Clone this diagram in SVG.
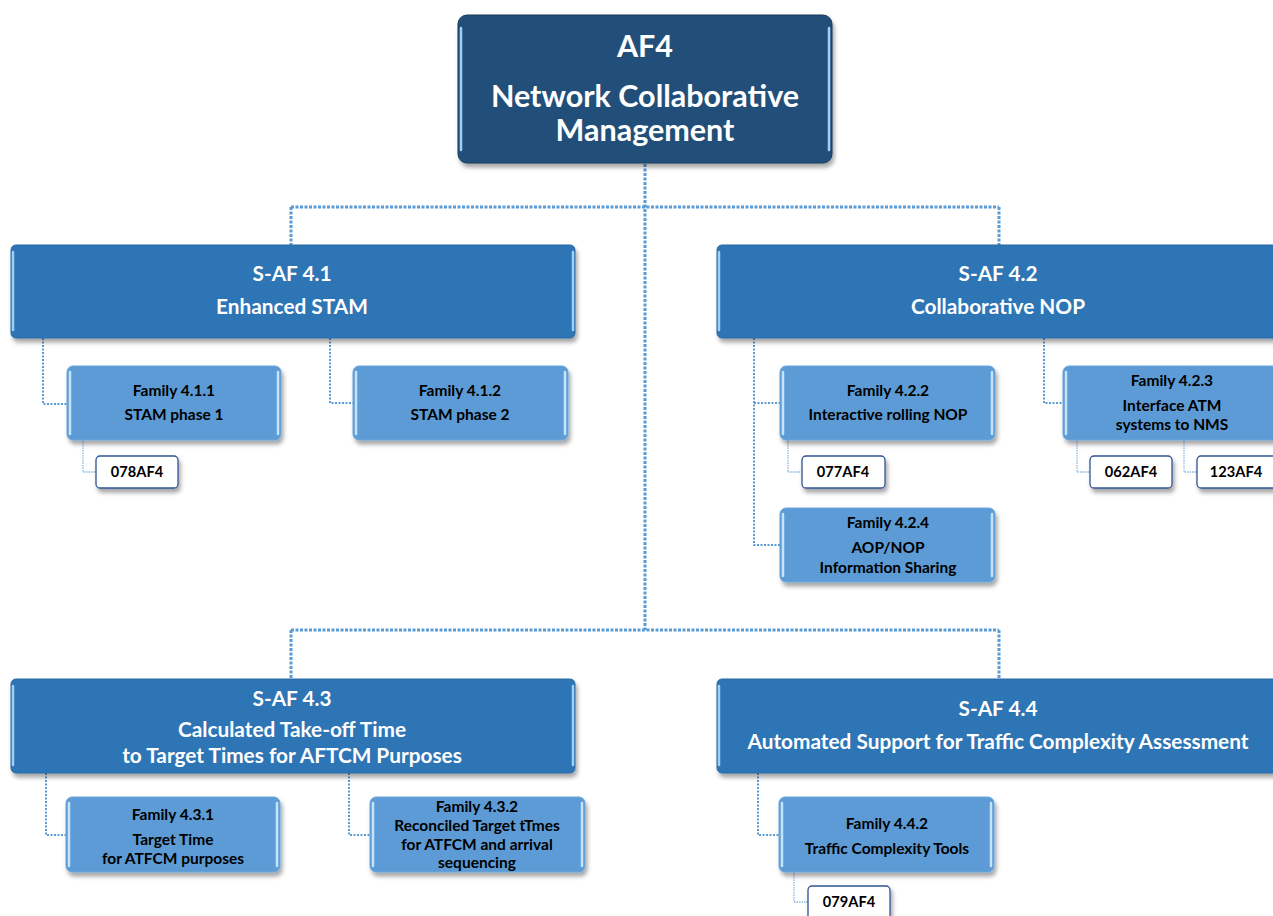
<svg xmlns="http://www.w3.org/2000/svg" width="1273" height="916" viewBox="0 0 1273 916">
<defs>
<filter id="sh" x="-10%" y="-10%" width="130%" height="140%">
<feDropShadow dx="2" dy="4" stdDeviation="2" flood-color="#000" flood-opacity="0.35"/>
</filter>
</defs>
<style>
.top{fill:#215079;stroke:#17395a;stroke-width:1}
.saf{fill:#2E74B5;stroke:#2a69a5;stroke-width:1}
.fam{fill:#5B9BD5;stroke:#6aa6db;stroke-width:1}
.code{fill:#fff;stroke:#2F5597;stroke-width:1.3}
.hl{stroke:#9fd0f7;stroke-width:2.5;stroke-linecap:round;fill:none}
.hl2{stroke:#c5e4fb;stroke-width:2.5;stroke-linecap:round;fill:none}
text{font-family:Lato,"Open Sans","Liberation Sans",sans-serif;font-weight:bold;text-anchor:middle}
.t1{fill:#fff;font-size:30.5px}
.t2{fill:#fff;font-size:20.8px}
.t3{fill:#000;font-size:15.5px}
.t4{fill:#000;font-size:14.6px}
.c1{stroke:#5B9BD5;stroke-width:3;stroke-dasharray:3 1.5;fill:none}
.c2{stroke:#5B9BD5;stroke-width:2;stroke-dasharray:2 1.5;fill:none}
.c3{stroke:#8fb9e2;stroke-width:1.3;stroke-dasharray:1.5 1;fill:none}
</style>
<g id="connectors">
<path class="c1" d="M645 164V630M291 207H999M291 207V245M999 207V245M291 630H999M291 630V679M999 630V679"/>
<path class="c2" d="M43 338V404H67M330 338V403H353M754 338V545H780M754 403H780M1044 338V403H1063M46 773V835H66M349 773V835H370M758 773V835H779"/>
<path class="c3" d="M83 440V472H96M788 440V472H802M1077 440V472H1090M1184 440V472H1197M794 872V902H808"/>
</g>
<g id="af4">
<rect class="top" x="458" y="15" width="374" height="148" rx="9" filter="url(#sh)"/>
<path class="hl" d="M461 28V150M829 28V150" stroke="#4f7aa3"/>
<text class="t1" x="645" y="57">AF4</text>
<text class="t1" x="645" y="107">Network Collaborative</text>
<text class="t1" x="645" y="141">Management</text>
</g>
<g id="saf41">
<rect class="saf" x="11" y="245" width="564" height="93" rx="5" filter="url(#sh)"/>
<path class="hl" d="M13 252V330M573 252V330" stroke="#6ea5db"/>
<text class="t2" x="292" y="281">S-AF 4.1</text>
<text class="t2" x="292" y="314">Enhanced STAM</text>
</g>
<g id="saf42">
<rect class="saf" x="717" y="245" width="570" height="93" rx="5" filter="url(#sh)"/>
<path class="hl" d="M719 252V330" stroke="#6ea5db"/>
<text class="t2" x="998" y="281">S-AF 4.2</text>
<text class="t2" x="998" y="314">Collaborative NOP</text>
</g>
<g id="saf43">
<rect class="saf" x="11" y="679" width="564" height="94" rx="5" filter="url(#sh)"/>
<path class="hl" d="M13 686V765M573 686V765" stroke="#6ea5db"/>
<text class="t2" x="292" y="706">S-AF 4.3</text>
<text class="t2" x="292" y="737">Calculated Take-off Time</text>
<text class="t2" x="292" y="763">to Target Times for AFTCM Purposes</text>
</g>
<g id="saf44">
<rect class="saf" x="717" y="679" width="570" height="94" rx="5" filter="url(#sh)"/>
<path class="hl" d="M719 686V765" stroke="#6ea5db"/>
<text class="t2" x="998" y="716">S-AF 4.4</text>
<text class="t2" x="998" y="749">Automated Support for Traffic Complexity Assessment</text>
</g>
<g id="fam411">
<rect class="fam" x="67" y="366" width="214" height="74" rx="6" filter="url(#sh)"/>
<path class="hl2" d="M70 372V434M278 372V434"/>
<text class="t3" x="174" y="396">Family 4.1.1</text>
<text class="t3" x="174" y="420">STAM phase 1</text>
</g>
<g id="fam412">
<rect class="fam" x="353" y="366" width="215" height="74" rx="6" filter="url(#sh)"/>
<path class="hl2" d="M356 372V434M565 372V434"/>
<text class="t3" x="460" y="396">Family 4.1.2</text>
<text class="t3" x="460" y="420">STAM phase 2</text>
</g>
<g id="fam422">
<rect class="fam" x="780" y="366" width="215" height="74" rx="6" filter="url(#sh)"/>
<path class="hl2" d="M783 372V434M992 372V434"/>
<text class="t3" x="888" y="396">Family 4.2.2</text>
<text class="t3" x="888" y="420">Interactive rolling  NOP</text>
</g>
<g id="fam423">
<rect class="fam" x="1063" y="366" width="220" height="74" rx="6" filter="url(#sh)"/>
<path class="hl2" d="M1066 372V434"/>
<text class="t3" x="1172" y="386">Family 4.2.3</text>
<text class="t3" x="1172" y="411">Interface ATM</text>
<text class="t3" x="1172" y="430">systems to NMS</text>
</g>
<g id="fam424">
<rect class="fam" x="780" y="508" width="215" height="74" rx="6" filter="url(#sh)"/>
<path class="hl2" d="M783 514V576M992 514V576"/>
<text class="t3" x="888" y="528">Family 4.2.4</text>
<text class="t3" x="888" y="553">AOP/NOP</text>
<text class="t3" x="888" y="573">Information Sharing</text>
</g>
<g id="fam431">
<rect class="fam" x="66" y="797" width="214" height="75" rx="6" filter="url(#sh)"/>
<path class="hl2" d="M69 803V866M277 803V866"/>
<text class="t3" x="173" y="820">Family 4.3.1</text>
<text class="t3" x="173" y="845">Target Time</text>
<text class="t3" x="173" y="864">for ATFCM  purposes</text>
</g>
<g id="fam432">
<rect class="fam" x="370" y="797" width="215" height="75" rx="6" filter="url(#sh)"/>
<path class="hl2" d="M373 803V866M582 803V866"/>
<text class="t3" x="477" y="812">Family 4.3.2</text>
<text class="t3" x="477" y="831">Reconciled Target tTmes</text>
<text class="t3" x="477" y="850">for ATFCM and arrival</text>
<text class="t3" x="477" y="868">sequencing</text>
</g>
<g id="fam442">
<rect class="fam" x="779" y="797" width="215" height="75" rx="6" filter="url(#sh)"/>
<path class="hl2" d="M782 803V866M991 803V866"/>
<text class="t3" x="887" y="829">Family 4.4.2</text>
<text class="t3" x="887" y="854">Traffic Complexity  Tools</text>
</g>
<g id="code078">
<rect class="code" x="96" y="456" width="82" height="32" rx="4" filter="url(#sh)"/>
<text class="t4" x="137" y="477">078AF4</text>
</g>
<g id="code077">
<rect class="code" x="802" y="456" width="83" height="32" rx="4" filter="url(#sh)"/>
<text class="t4" x="843" y="477">077AF4</text>
</g>
<g id="code062">
<rect class="code" x="1090" y="456" width="82" height="32" rx="4" filter="url(#sh)"/>
<text class="t4" x="1131" y="477">062AF4</text>
</g>
<g id="code123">
<rect class="code" x="1197" y="456" width="82" height="32" rx="4" filter="url(#sh)"/>
<text class="t4" x="1236" y="477">123AF4</text>
</g>
<g id="code079">
<rect class="code" x="808" y="886" width="82" height="34" rx="4" filter="url(#sh)"/>
<text class="t4" x="849" y="907">079AF4</text>
</g>
</svg>
